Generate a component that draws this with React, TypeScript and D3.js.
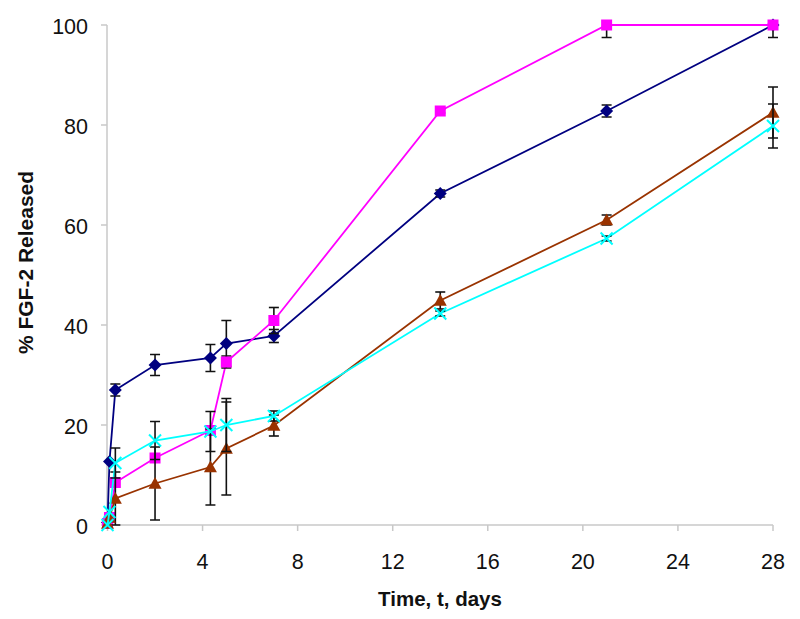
import React from "react";
import * as d3 from "d3";

const times = [0, 0.083, 0.33, 2, 4.33, 5, 7, 14, 21, 28];

const blueValues = [0.5, 12.7, 27, 32, 33.4, 36.3, 37.8, 66.3, 82.8, 100];
const blueErrors = [0, 0, 1.2, 2.1, 2.7, 4.6, 1.3, 0.7, 1.2, 0.8];

const magentaValues = [0.3, 1.5, 8.5, 13.4, 18.9, 32.6, 40.9, 82.8, 100, 100];
const magentaErrors = [0, 0, 0, 0, 0, 1.2, 2.6, 0.4, 2.5, 2.5];

const brownValues = [0.3, 1.5, 5.3, 8.3, 11.6, 15.3, 19.9, 44.9, 61, 82.5];
const brownErrors = [0, 0, 5.3, 7.3, 7.6, 9.3, 2.1, 1.7, 1.0, 5.1];

const cyanValues = [0, 2.6, 12.4, 16.9, 18.7, 20, 21.8, 42.3, 57.3, 79.8];
const cyanErrors = [0, 0, 3, 3.8, 4.0, 5.3, 1.0, 0.5, 0.5, 4.4];

const xTicks = [0, 4, 8, 12, 16, 20, 24, 28];
const yTicks = [0, 20, 40, 60, 80, 100];

type Series = {
  name: string;
  values: number[];
  errors: number[];
  color: string;
  marker: "diamond" | "square" | "triangle" | "x";
};

const series: Series[] = [
  { name: "A", values: blueValues, errors: blueErrors, color: "#000080", marker: "diamond" },
  { name: "B", values: magentaValues, errors: magentaErrors, color: "#FF00FF", marker: "square" },
  { name: "C", values: brownValues, errors: brownErrors, color: "#993300", marker: "triangle" },
  { name: "D", values: cyanValues, errors: cyanErrors, color: "#00FFFF", marker: "x" },
];

const W = 800;
const H = 619;
const FONT = "Arial, 'Liberation Sans', sans-serif";

function Marker({ type, x, y, color }: { type: Series["marker"]; x: number; y: number; color: string }) {
  if (type === "diamond") {
    const r = 6.5;
    return <path d={`M${x},${y - r}L${x + r},${y}L${x},${y + r}L${x - r},${y}Z`} fill={color} />;
  }
  if (type === "square") {
    const s = 5.5;
    return <rect x={x - s} y={y - s} width={2 * s} height={2 * s} fill={color} />;
  }
  if (type === "triangle") {
    const r = 6.5;
    return <path d={`M${x},${y - r}L${x + r},${y + r * 0.8}L${x - r},${y + r * 0.8}Z`} fill={color} />;
  }
  const r = 6;
  return (
    <path
      d={`M${x - r},${y - r}L${x + r},${y + r}M${x - r},${y + r}L${x + r},${y - r}`}
      stroke={color}
      strokeWidth={2}
      fill="none"
    />
  );
}

export default function App() {
  const x = d3.scaleLinear().domain([0, 28]).range([107.5, 773]);
  const y = d3.scaleLinear().domain([0, 100]).range([525, 25]);

  const line = d3
    .line<number>()
    .x((_, i) => x(times[i]))
    .y((d) => y(d));

  return (
    <svg
      width={W}
      height={H}
      style={{ position: "absolute", left: 0, top: 0, background: "#fff" }}
      fontFamily={FONT}
    >
      <defs>
        <clipPath id="plotClip">
          <rect x={x(0) - 10} y={y(100)} width={x(28) - x(0) + 20} height={y(0) - y(100) + 10} />
        </clipPath>
      </defs>

      {/* axes */}
      <line x1={107} x2={107} y1={y(100)} y2={y(0)} stroke="#c8c8c8" strokeWidth={1.5} />
      <line x1={107} x2={x(28)} y1={y(0)} y2={y(0)} stroke="#c8c8c8" strokeWidth={1.5} />
      {yTicks.map((t) => (
        <g key={"y" + t}>
          <line x1={101} x2={107} y1={y(t)} y2={y(t)} stroke="#c8c8c8" strokeWidth={1.5} />
          <text x={88} y={y(t) + 1.5} dy="0.35em" textAnchor="end" fontSize={21.5} fill="#111">
            {t}
          </text>
        </g>
      ))}
      {xTicks.map((t) => (
        <g key={"x" + t}>
          <line x1={x(t)} x2={x(t)} y1={y(0)} y2={y(0) + 6} stroke="#c8c8c8" strokeWidth={1.5} />
          <text x={x(t)} y={561} dy="0.35em" textAnchor="middle" fontSize={21.5} fill="#111">
            {t}
          </text>
        </g>
      ))}

      <text x={440} y={606} textAnchor="middle" fontSize={20.5} fontWeight="bold" fill="#111">
        Time, t, days
      </text>
      <text
        transform={`translate(33,262.5) rotate(-90)`}
        textAnchor="middle"
        fontSize={21}
        fontWeight="bold"
        fill="#111"
      >
        % FGF-2 Released
      </text>

      {series.map((s) => (
        <g key={s.name}>
          <path d={line(s.values) || ""} fill="none" stroke={s.color} strokeWidth={1.8} />
          <g clipPath="url(#plotClip)">
            {s.values.map((v, i) =>
              s.errors[i] > 0 ? (
                <g key={i} stroke="#111" strokeWidth={1.6}>
                  <line x1={x(times[i])} x2={x(times[i])} y1={y(v + s.errors[i])} y2={y(v - s.errors[i])} />
                  <line x1={x(times[i]) - 5} x2={x(times[i]) + 5} y1={y(v + s.errors[i])} y2={y(v + s.errors[i])} />
                  <line x1={x(times[i]) - 5} x2={x(times[i]) + 5} y1={y(v - s.errors[i])} y2={y(v - s.errors[i])} />
                </g>
              ) : null
            )}
          </g>
          {s.values.map((v, i) => (
            <Marker key={i} type={s.marker} x={x(times[i])} y={y(v)} color={s.color} />
          ))}
        </g>
      ))}
    </svg>
  );
}
